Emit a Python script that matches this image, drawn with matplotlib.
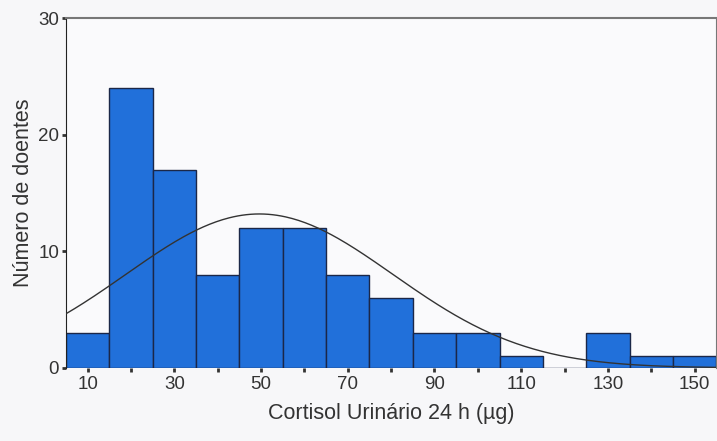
import numpy as np
import matplotlib.pyplot as plt

# bin centres (ug / 24 h) and number of patients per bin
bin_centres = [10, 20, 30, 40, 50, 60, 70, 80, 90, 100, 110, 120, 130, 140, 150]
counts = [3, 24, 17, 8, 12, 12, 8, 6, 3, 3, 1, 0, 3, 1, 1]
bin_width = 10

x_ticklabels = [10, 30, 50, 70, 90, 110, 130, 150]
y_ticks = [0, 10, 20, 30]

bar_blue = '#2170da'
edge_dark = '#1b2748'

plt.rcParams['font.family'] = ['Liberation Sans', 'DejaVu Sans']

fig = plt.figure(figsize=(7.17, 4.41), dpi=100, facecolor='#f7f7f9')
ax = fig.add_axes([0.092, 0.166, 0.907, 0.793])
ax.set_facecolor('#fafafc')

ax.bar(bin_centres, counts, width=bin_width, color=bar_blue,
       edgecolor=edge_dark, linewidth=1.0, zorder=2)

# normal curve fitted to the binned data, scaled to counts
c = np.array(bin_centres, dtype=float)
n = np.array(counts, dtype=float)
total = n.sum()
mean = (c * n).sum() / total
sd = np.sqrt((n * (c - mean) ** 2).sum() / total)
xs = np.linspace(5, 155, 300)
ys = total * bin_width / (sd * np.sqrt(2 * np.pi)) * np.exp(-0.5 * ((xs - mean) / sd) ** 2)
ax.plot(xs, ys, color='#333333', linewidth=1.0, zorder=3)

ax.set_xlim(5, 155)
ax.set_ylim(0, 30)

ax.set_xticks(bin_centres)
ax.set_xticklabels([str(v) if v in x_ticklabels else '' for v in bin_centres])
ax.set_yticks(y_ticks)

ax.tick_params(axis='x', direction='out', length=3, width=2, color='#333333',
               labelsize=13.5, labelcolor='#333333', pad=3)
ax.tick_params(axis='y', direction='out', length=3, width=2, color='#333333',
               labelsize=13.5, labelcolor='#333333', pad=2)
for lbl in ax.get_xticklabels() + ax.get_yticklabels():
    lbl.set_fontstretch('condensed')

ax.spines['bottom'].set_visible(False)
ax.spines['left'].set_color('#222222')
ax.spines['top'].set_color('#777777')
ax.spines['top'].set_linewidth(1.5)
ax.spines['right'].set_color('#777777')

ax.set_xlabel('Cortisol Urinário 24 h (µg)', fontsize=15.5, color='#333333', labelpad=7)
ax.set_ylabel('Número de doentes', fontsize=15.5, color='#333333', labelpad=3)

fig.savefig('out.png', dpi=100, facecolor=fig.get_facecolor())
